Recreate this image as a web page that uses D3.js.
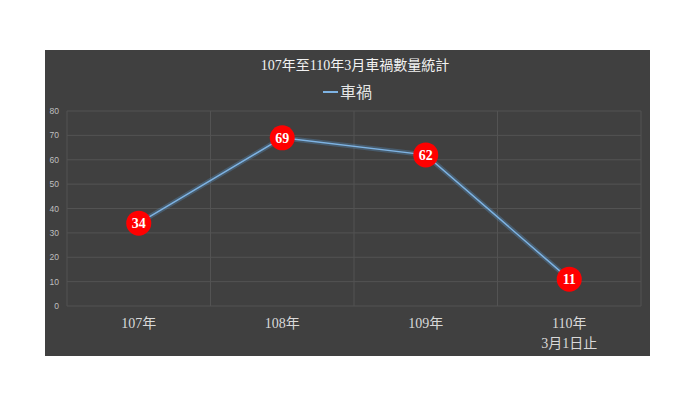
<!DOCTYPE html>
<html>
<head>
<meta charset="utf-8">
<script src="https://cdn.jsdelivr.net/npm/d3@7"></script>
<style>
  body { margin: 0; background: #fff; }
  svg { display: block; }
</style>
</head>
<body>
<svg width="700" height="394"></svg>
<script>
// data
const categories = ["107年", "108年", "109年", "110年\n3月1日止"];
const crashes = [34, 69, 62, 11];
const yTicks = [0, 10, 20, 30, 40, 50, 60, 70, 80];
const chartTitle = "107年至110年3月車禍數量統計";
const seriesName = "車禍";

const svg = d3.select("svg");
const serif = "'Liberation Serif', 'DejaVu Serif', 'Noto Sans CJK TC', serif";

// chart background
svg.append("rect")
  .attr("x", 45).attr("y", 50)
  .attr("width", 605).attr("height", 306)
  .attr("fill", "#404040");

const x = d3.scaleBand().domain(categories).range([67, 641]);
const y = d3.scaleLinear().domain([0, 80]).range([306, 111]);

// horizontal grid
svg.append("g")
  .selectAll("line")
  .data(yTicks)
  .join("line")
    .attr("x1", 67).attr("x2", 641)
    .attr("y1", d => y(d)).attr("y2", d => y(d))
    .attr("stroke", "#535353").attr("stroke-width", 1);

// vertical grid at category boundaries
svg.append("g")
  .selectAll("line")
  .data(categories.map(c => x(c)).concat([x.range()[1]]))
  .join("line")
    .attr("x1", d => d).attr("x2", d => d)
    .attr("y1", y(80)).attr("y2", y(0))
    .attr("stroke", "#535353").attr("stroke-width", 1);

// y axis labels
svg.append("g")
  .selectAll("text")
  .data(yTicks)
  .join("text")
    .attr("x", 59)
    .attr("y", d => y(d) + 3)
    .attr("text-anchor", "end")
    .attr("font-family", "'Liberation Sans', Arial, sans-serif")
    .attr("font-size", 8.5)
    .attr("fill", "#bfbfbf")
    .text(d => d);

// x axis labels
const xl = svg.append("g")
  .selectAll("text")
  .data(categories)
  .join("text")
    .attr("x", d => x(d) + x.bandwidth() / 2)
    .attr("y", 328)
    .attr("text-anchor", "middle")
    .attr("font-family", serif)
    .attr("font-size", 14)
    .attr("fill", "#d9d9d9");
xl.each(function(d) {
  const t = d3.select(this);
  d.split("\n").forEach((s, i) => {
    t.append("tspan")
      .attr("x", x(d) + x.bandwidth() / 2)
      .attr("dy", i === 0 ? 0 : 20)
      .text(s);
  });
});

// line
const line = d3.line()
  .x((d, i) => x(categories[i]) + x.bandwidth() / 2)
  .y(d => y(d));

svg.append("path")
  .datum(crashes)
  .attr("d", line)
  .attr("fill", "none")
  .attr("stroke", "#5b9bd5")
  .attr("stroke-opacity", 0.3)
  .attr("stroke-width", 5);

svg.append("path")
  .datum(crashes)
  .attr("d", line)
  .attr("fill", "none")
  .attr("stroke", "#7eb3e3")
  .attr("stroke-width", 1.5);

// markers
const pts = svg.append("g")
  .selectAll("g")
  .data(crashes)
  .join("g")
    .attr("transform", (d, i) => `translate(${x(categories[i]) + x.bandwidth() / 2},${y(d)})`);

pts.append("circle")
  .attr("r", 12.5)
  .attr("fill", "#ff0000");

pts.append("text")
  .attr("text-anchor", "middle")
  .attr("dy", "0.35em")
  .attr("font-family", serif)
  .attr("font-weight", "bold")
  .attr("font-size", 14)
  .attr("fill", "#fff")
  .text(d => d);

// title
svg.append("text")
  .attr("x", 355).attr("y", 70)
  .attr("text-anchor", "middle")
  .attr("font-family", serif)
  .attr("font-size", 14)
  .attr("fill", "#f2f2f2")
  .text(chartTitle);

// legend
svg.append("line")
  .attr("x1", 323).attr("x2", 338)
  .attr("y1", 92).attr("y2", 92)
  .attr("stroke", "#7eb3e3").attr("stroke-width", 2);
svg.append("text")
  .attr("x", 340).attr("y", 98)
  .attr("font-family", serif)
  .attr("font-size", 16)
  .attr("fill", "#e6e6e6")
  .text(seriesName);
</script>
</body>
</html>
